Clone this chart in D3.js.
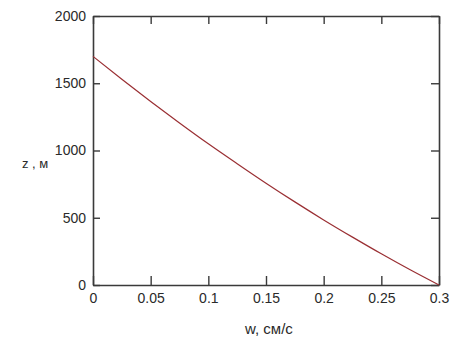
<!DOCTYPE html>
<html><head><meta charset="utf-8">
<script src="https://cdn.jsdelivr.net/npm/d3@7"></script>
<style>
html,body{margin:0;padding:0;background:#fff;}
svg{display:block;}
.tick text{font-family:"Liberation Sans Narrow","Arial Narrow","Liberation Sans",sans-serif;font-size:14px;fill:#2a2a2a;}
.lbl{font-family:"Liberation Sans",Arial,sans-serif;fill:#2a2a2a;}
</style></head>
<body>
<script>
const wValues = [0, 0.025, 0.05, 0.075, 0.1, 0.125, 0.15, 0.175, 0.2, 0.225, 0.25, 0.275, 0.3];
const zValues = [1700, 1530, 1365, 1205, 1050, 902, 757, 618, 484, 356, 232, 113, 0];
const xTicks = [0, 0.05, 0.1, 0.15, 0.2, 0.25, 0.3];
const xTickLabels = ["0", "0.05", "0.1", "0.15", "0.2", "0.25", "0.3"];
const yTicks = [0, 500, 1000, 1500, 2000];
const xTitle = "w, см/с";
const yTitle = "z , м";

const W = 450, H = 342;
const m = {left: 93, right: 11, top: 16, bottom: 57};
const svg = d3.select("body").append("svg").attr("width", W).attr("height", H);

const x = d3.scaleLinear().domain([0, 0.3]).range([m.left, W - m.right]);
const y = d3.scaleLinear().domain([0, 2000]).range([H - m.bottom, m.top]);

const axisColor = "#3a3a3a";
function style(g) {
  g.selectAll("path.domain").attr("stroke", axisColor).attr("stroke-width", 1.6);
  g.selectAll(".tick line").attr("stroke", axisColor).attr("stroke-width", 1.4);
}

// bottom
svg.append("g").attr("transform", `translate(0,${y(0)})`)
  .call(d3.axisBottom(x).tickValues(xTicks).tickFormat((d, i) => xTickLabels[i]).tickSizeInner(-9).tickSizeOuter(0).tickPadding(8))
  .call(style).call(g => g.selectAll(".tick text").attr("font-family", null).attr("font-size", null));
// top
svg.append("g").attr("transform", `translate(0,${y(2000)})`)
  .call(d3.axisTop(x).tickValues(xTicks).tickFormat("").tickSizeInner(-8).tickSizeOuter(0))
  .call(style);
// left
svg.append("g").attr("transform", `translate(${x(0)},0)`)
  .call(d3.axisLeft(y).tickValues(yTicks).tickFormat(d3.format("d")).tickSizeInner(-7).tickSizeOuter(0).tickPadding(7))
  .call(style).call(g => g.selectAll(".tick text").attr("font-family", null).attr("font-size", null));
// right
svg.append("g").attr("transform", `translate(${x(0.3)},0)`)
  .call(d3.axisRight(y).tickValues(yTicks).tickFormat("").tickSizeInner(-8).tickSizeOuter(0))
  .call(style);

// curve
const line = d3.line().x((d, i) => x(wValues[i])).y(d => y(d)).curve(d3.curveMonotoneX);
svg.append("path").datum(zValues).attr("d", line)
  .attr("fill", "none").attr("stroke", "#9a2f33").attr("stroke-width", 1.2);

// titles
svg.append("text").attr("class", "lbl").attr("x", 22).attr("y", 168).attr("font-size", 13).text(yTitle);
svg.append("text").attr("class", "lbl").attr("x", 245).attr("y", 334).attr("font-size", 15).text(xTitle);
</script>
</body></html>
